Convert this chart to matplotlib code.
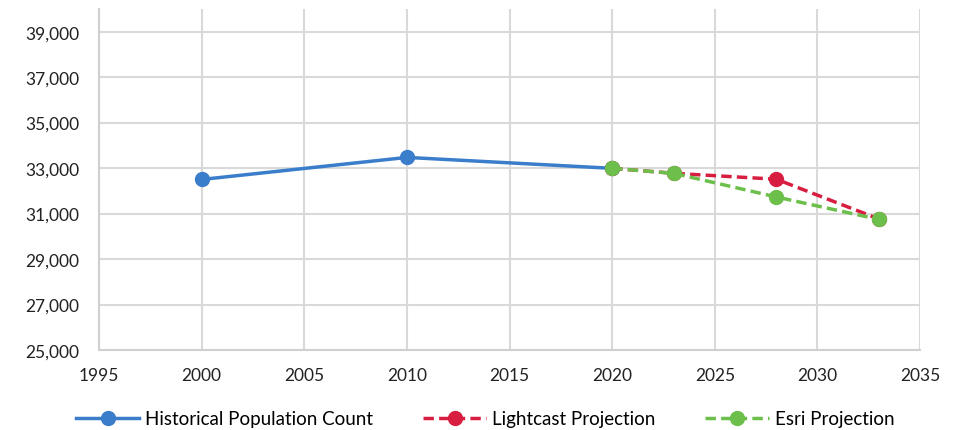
import matplotlib.pyplot as plt
from matplotlib.ticker import FuncFormatter

hist_years = [2000, 2010, 2020]
hist_pop = [32500, 33470, 32990]

light_years = [2020, 2023, 2028, 2033]
light_pop = [32990, 32770, 32510, 30760]

esri_years = [2020, 2023, 2028, 2033]
esri_pop = [32990, 32770, 31730, 30740]

plt.rcParams['font.family'] = ['Lato', 'DejaVu Sans']

fig = plt.figure(figsize=(9.55, 4.31), dpi=100)
ax = fig.add_axes([0.1037, 0.1856, 0.8597, 0.7914])

ax.plot(hist_years, hist_pop, color='#3A7DCB', lw=2.5, marker='o', ms=10,
        label='Historical Population Count', zorder=3)
ax.plot(light_years, light_pop, color='#D81E40', lw=2.5, ls=(0, (3, 1.5)), marker='o', ms=10,
        label='Lightcast Projection', zorder=4)
ax.plot(esri_years, esri_pop, color='#6CBF4A', lw=2.5, ls=(0, (3, 1.5)), marker='o', ms=10,
        label='Esri Projection', zorder=5)

ax.set_xlim(1995, 2035)
ax.set_ylim(25000, 40000)
ax.set_xticks(range(1995, 2036, 5))
ax.set_yticks(range(25000, 40000, 2000))
ax.yaxis.set_major_formatter(FuncFormatter(lambda v, p: '{:,.0f}'.format(v)))

ax.grid(True, color='#D9D9D9', lw=1.5)
ax.set_axisbelow(True)
for s in ['top', 'right']:
    ax.spines[s].set_visible(False)
for s in ['left', 'bottom']:
    ax.spines[s].set_color('#D0D0D0')
    ax.spines[s].set_linewidth(1.5)
ax.tick_params(axis='y', length=0, labelsize=12.5, colors='#222222', pad=14)
ax.tick_params(axis='x', length=0, labelsize=12.5, colors='#222222', pad=12)

ax.legend(loc='upper center', bbox_to_anchor=(0.47, -0.127), ncol=3, frameon=False,
          fontsize=13.5, handlelength=3.4, columnspacing=2.65, handletextpad=0.3)

fig.savefig('out.png', dpi=100)
